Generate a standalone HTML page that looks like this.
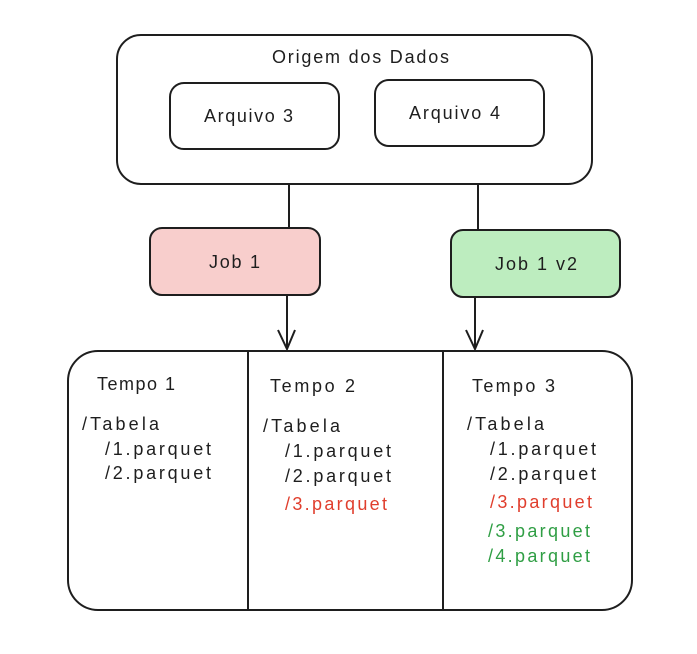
<!DOCTYPE html>
<html><head><meta charset="utf-8"><style>
body{margin:0;background:#fff;width:697px;height:649px;overflow:hidden}
svg text{font-family:"Liberation Sans",sans-serif;font-size:18px;fill:#1e1e1e}
</style></head><body>
<svg width="697" height="649" viewBox="0 0 697 649" xmlns="http://www.w3.org/2000/svg">
<g fill="none" stroke="#1e1e1e" stroke-width="2">
<rect x="117" y="35" width="475" height="149" rx="24" fill="#fff"/>
<rect x="170" y="83" width="169" height="66" rx="14"/>
<rect x="375" y="80" width="169" height="66" rx="14"/>
<line x1="289" y1="184" x2="289" y2="228"/>
<line x1="478" y1="185" x2="478" y2="230"/>
<rect x="150" y="228" width="170" height="67" rx="12" fill="#f8cecc"/>
<rect x="451" y="230" width="169" height="67" rx="12" fill="#bdedbf"/>
<line x1="287" y1="295" x2="287" y2="349"/>
<polyline points="278,330 287,349 295,330"/>
<line x1="475" y1="297" x2="475" y2="349"/>
<polyline points="466,330 475,349 483,330"/>
<rect x="68" y="351" width="564" height="259" rx="30"/>
<line x1="248" y1="351" x2="248" y2="610"/>
<line x1="443" y1="351" x2="443" y2="610"/>
</g>
<text x="272" y="63" textLength="177">Origem dos Dados</text>
<text x="204" y="122" textLength="89">Arquivo 3</text>
<text x="409" y="119" textLength="91">Arquivo 4</text>
<text x="209" y="268" textLength="51">Job 1</text>
<text x="495" y="270" textLength="82">Job 1 v2</text>
<text x="97" y="390" textLength="78">Tempo 1</text>
<text x="82" y="430" textLength="77">/Tabela</text>
<text x="105" y="455" textLength="106">/1.parquet</text>
<text x="105" y="479" textLength="106">/2.parquet</text>
<text x="270" y="392" textLength="85">Tempo 2</text>
<text x="263" y="432" textLength="77">/Tabela</text>
<text x="285" y="457" textLength="106">/1.parquet</text>
<text x="285" y="482" textLength="106">/2.parquet</text>
<text x="285" y="510" textLength="102" style="fill:#e03e2d">/3.parquet</text>
<text x="472" y="392" textLength="83">Tempo 3</text>
<text x="467" y="430" textLength="77">/Tabela</text>
<text x="490" y="455" textLength="106">/1.parquet</text>
<text x="490" y="480" textLength="106">/2.parquet</text>
<text x="490" y="508" textLength="102" style="fill:#e03e2d">/3.parquet</text>
<text x="488" y="537" textLength="102" style="fill:#2f9e44">/3.parquet</text>
<text x="488" y="562" textLength="102" style="fill:#2f9e44">/4.parquet</text>
</svg>
</body></html>
